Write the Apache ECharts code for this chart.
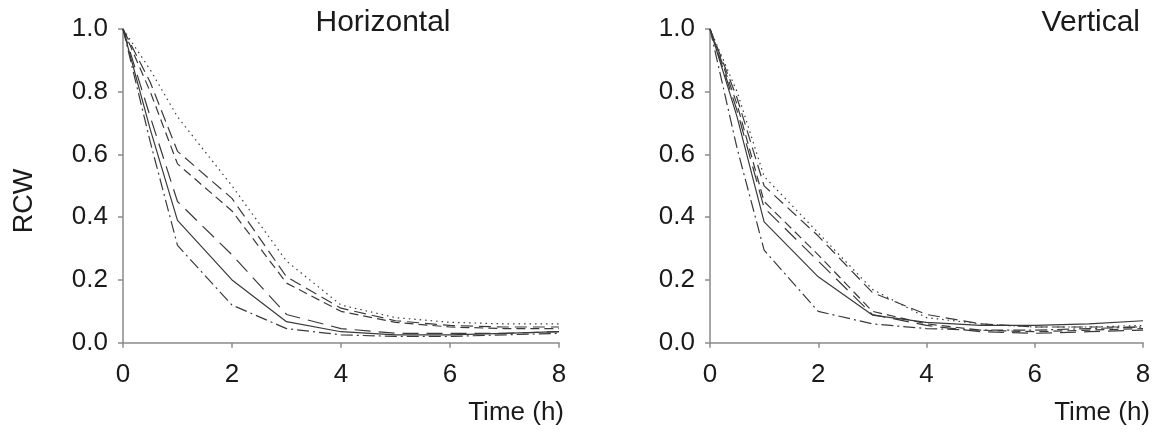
<!DOCTYPE html>
<html>
<head>
<meta charset="utf-8">
<script src="https://cdn.jsdelivr.net/npm/echarts@6/dist/echarts.min.js"></script>
<style>
html,body{margin:0;padding:0;background:#fff;}
#chart{width:1162px;height:440px;}
</style>
</head>
<body>
<div id="chart"></div>
<script>
// Time points (h)
const times = [0, 0.5, 1, 2, 3, 4, 5, 6, 7, 8];
const xTicks = [0, 2, 4, 6, 8];
const yTicks = [0.0, 0.2, 0.4, 0.6, 0.8, 1.0];
const panelTitles = ["Horizontal", "Vertical"];
const xAxisName = "Time (h)";
const yAxisName = "RCW";

// Horizontal panel series (RCW)
const hDotted   = [1, 0.87, 0.72, 0.50, 0.26, 0.12, 0.08, 0.065, 0.06, 0.06];
const hDashA    = [1, 0.83, 0.61, 0.46, 0.21, 0.11, 0.07, 0.055, 0.05, 0.05];
const hDashB    = [1, 0.80, 0.57, 0.42, 0.19, 0.10, 0.065, 0.05, 0.045, 0.045];
const hDashC    = [1, 0.72, 0.45, 0.28, 0.09, 0.045, 0.03, 0.03, 0.03, 0.035];
const hSolid    = [1, 0.68, 0.39, 0.20, 0.067, 0.035, 0.025, 0.025, 0.03, 0.035];
const hDashDot  = [1, 0.64, 0.31, 0.12, 0.045, 0.025, 0.02, 0.02, 0.025, 0.03];

// Vertical panel series (RCW)
const vDashHigh = [1, 0.78, 0.50, 0.34, 0.16, 0.09, 0.06, 0.05, 0.05, 0.05];
const vDotted   = [1, 0.80, 0.53, 0.35, 0.17, 0.08, 0.06, 0.05, 0.05, 0.055];
const vDashA    = [1, 0.76, 0.45, 0.28, 0.10, 0.06, 0.04, 0.035, 0.04, 0.045];
const vDashB    = [1, 0.74, 0.43, 0.26, 0.09, 0.055, 0.035, 0.03, 0.035, 0.04];
const vSolid    = [1, 0.72, 0.385, 0.21, 0.088, 0.065, 0.055, 0.055, 0.06, 0.07];
const vDashDot  = [1, 0.62, 0.295, 0.10, 0.06, 0.045, 0.04, 0.04, 0.045, 0.05];

const styles = {
  dotted:  [1.5, 4],
  dashLong:[12, 6],
  dashMed: [9, 5],
  dashMid: [16, 8],
  solid:   'solid',
  dashDot: [12, 4, 2, 4]
};

const hSeries = [
  [hDotted, styles.dotted],
  [hDashA, styles.dashLong],
  [hDashB, styles.dashMed],
  [hDashC, styles.dashMid],
  [hSolid, styles.solid],
  [hDashDot, styles.dashDot]
];
const vSeries = [
  [vDashHigh, styles.dashLong],
  [vDotted, styles.dotted],
  [vDashA, styles.dashMed],
  [vDashB, styles.dashMid],
  [vSolid, styles.solid],
  [vDashDot, styles.dashDot]
];

const FONT = 'Liberation Sans, Arial, sans-serif';
const TXT = '#1a1a1a';
const AX = '#8a8a8a';

function mkX(gi){
  return {
    type:'value', gridIndex:gi, min:0, max:8, interval:2,
    axisLine:{show:true, lineStyle:{color:AX, width:1.5}},
    axisTick:{show:true, inside:false, length:5, lineStyle:{color:AX, width:1.5}},
    splitLine:{show:false},
    axisLabel:{color:TXT, fontSize:26, fontFamily:FONT, margin:19},
  };
}
function mkY(gi){
  return {
    type:'value', gridIndex:gi, min:0, max:1, interval:0.2,
    axisLine:{show:true, lineStyle:{color:AX, width:1.5}},
    axisTick:{show:true, inside:false, length:5, lineStyle:{color:AX, width:1.5}},
    splitLine:{show:false},
    axisLabel:{color:TXT, fontSize:26, fontFamily:FONT, margin:15,
      formatter: v => v.toFixed(1)},
  };
}
function mkSeries(list, gi){
  return list.map(([vals, dash]) => ({
    type:'line', xAxisIndex:gi, yAxisIndex:gi,
    data: times.map((t,i)=>[t, vals[i]]),
    showSymbol:false, symbol:'none', silent:true, animation:false,
    lineStyle:{color:'#3a3a3a', width:1.2, type:dash}
  }));
}

const chart = echarts.init(document.getElementById('chart'));
chart.setOption({
  animation:false,
  backgroundColor:'#fff',
  grid:[
    {left:123, top:29, width:436, height:313.7},
    {left:710, top:29, width:433, height:313.7}
  ],
  xAxis:[mkX(0), mkX(1)],
  yAxis:[mkY(0), mkY(1)],
  series: mkSeries(hSeries,0).concat(mkSeries(vSeries,1)),
  graphic:[
    {type:'text', x:383, y:23, style:{text:panelTitles[0], font:'30px '+FONT, fill:TXT, align:'center', verticalAlign:'middle'}},
    {type:'text', x:1140, y:23, style:{text:panelTitles[1], font:'30px '+FONT, fill:TXT, align:'right', verticalAlign:'middle'}},
    {type:'text', x:564, y:413, style:{text:xAxisName, font:'26px '+FONT, fill:TXT, align:'right', verticalAlign:'middle'}},
    {type:'text', x:1150, y:413, style:{text:xAxisName, font:'26px '+FONT, fill:TXT, align:'right', verticalAlign:'middle'}},
    {type:'text', x:25, y:201, rotation:Math.PI/2, style:{text:yAxisName, font:'27px '+FONT, fill:TXT, align:'center', verticalAlign:'middle'}}
  ]
});
</script>
</body>
</html>
